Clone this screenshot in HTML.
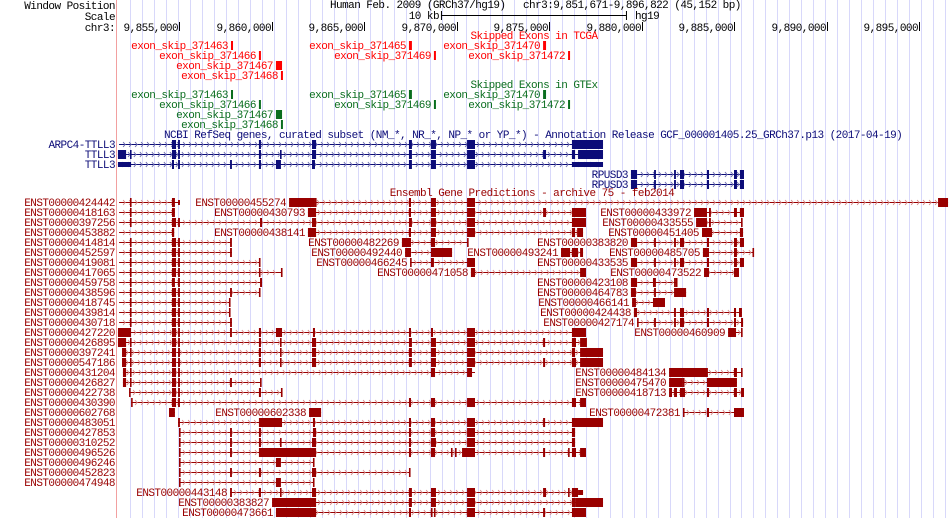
<!DOCTYPE html>
<html><head><meta charset="utf-8"><style>
body{margin:0;background:#fff;width:950px;height:518px;overflow:hidden}
svg{display:block}
text{font-family:"Liberation Mono",monospace;font-size:11px;letter-spacing:-0.55px}
</style></head><body>
<svg id="c" width="950" height="518" xmlns="http://www.w3.org/2000/svg"></svg>
<script>
// Data: positions in kb offset from chr3:9,850,000
const axisTicks=[5,10,15,20,25,30,35,40,45];
const axisTickLabels=["9,855,000","9,860,000","9,865,000","9,870,000","9,875,000","9,880,000","9,885,000","9,890,000","9,895,000"];
const skipNames=["exon_skip_371463","exon_skip_371465","exon_skip_371470","exon_skip_371466","exon_skip_371469","exon_skip_371472","exon_skip_371467","exon_skip_371468"];
const skipRows=[0,0,0,1,1,1,2,3];
const skipStarts=[7.81,17.43,24.68,9.32,18.78,26.03,10.24,10.51];
const skipEnds=[7.92,17.59,24.84,9.38,18.84,26.08,10.57,10.57];
const RP=[[29.43,29.76],[30.68,30.78],[31.76,31.86],[32.08,32.30],[33.54,33.65],[35.00,35.16],[35.32,35.54]];
const refseq=[
 [0,"ARPC4-TTLL3",1,1.76,27.92,[[4.62,4.84],[4.95,5.05],[9.32,9.43],[12.19,12.41],[17.43,17.59],[18.62,18.89],[20.57,21.00],[26.24,27.92]]],
 [1,"TTLL3",1,1.70,27.92,[[1.70,2.14],[2.35,2.41],[4.62,4.84],[4.95,5.05],[9.32,9.43],[10.46,10.51],[12.19,12.41],[17.43,17.59],[18.62,18.89],[20.57,21.00],[24.68,24.84],[26.24,26.41],[26.57,27.92]]],
 [2,"TTLL3",1,1.70,27.92,[[1.70,2.41,1],[4.62,4.73],[4.95,5.05],[7.76,7.86],[9.32,9.43],[10.24,10.51],[12.19,12.35],[17.43,17.59],[18.62,18.89],[20.57,21.00],[26.24,27.92,1]]],
 [3,"RPUSD3",0,29.43,35.54,RP],
 [4,"RPUSD3",0,29.43,35.54,RP]
];
const ensembl=[
 [0,"ENST00000424442",1,1.76,5.05,[[2.35,2.41],[4.62,4.78],[4.95,5.05,1]]],
 [0,"ENST00000455274",0,10.95,46.57,[[10.95,12.35],[12.35,12.41],[17.43,17.54],[18.62,18.89],[20.57,21.00],[46.03,46.57]]],
 [1,"ENST00000418163",1,1.76,4.78,[[2.35,2.41],[4.62,4.78]]],
 [1,"ENST00000430793",0,11.97,27.00,[[11.97,12.41],[17.43,17.54],[18.62,18.89],[20.57,21.00],[24.68,24.84],[26.24,27.00]]],
 [1,"ENST00000433972",0,32.84,35.54,[[32.84,33.54],[33.65,33.75],[35.00,35.16],[35.32,35.54]]],
 [2,"ENST00000397256",1,1.76,27.00,[[2.35,2.41],[4.62,4.84],[4.95,5.05],[9.38,9.49],[12.19,12.41],[17.43,17.59],[18.62,18.89],[20.57,21.00],[26.24,27.00]]],
 [2,"ENST00000433555",0,32.95,35.43,[[32.95,33.54],[33.65,33.75],[35.38,35.43]]],
 [3,"ENST00000453882",1,1.76,4.74,[[4.62,4.74]]],
 [3,"ENST00000438141",0,11.97,26.84,[[11.97,12.41],[17.43,17.54],[18.62,18.89],[20.57,21.00],[26.24,26.41],[26.52,26.84]]],
 [3,"ENST00000451405",0,33.27,35.49,[[33.27,33.81],[35.32,35.49]]],
 [4,"ENST00000414814",1,1.76,7.81,[[2.35,2.41],[4.62,4.84],[4.95,5.05],[7.76,7.86]]],
 [4,"ENST00000482269",0,17.05,20.62,[[17.05,17.54],[18.62,18.84],[20.57,20.65]]],
 [4,"ENST00000383820",0,29.43,35.54,RP],
 [5,"ENST00000452597",1,1.76,7.86,[[2.35,2.41],[4.62,4.84],[4.95,5.05],[7.76,7.86]]],
 [5,"ENST00000492440",0,17.22,19.76,[[17.22,17.54],[18.62,19.76]]],
 [5,"ENST00000493241",0,25.65,26.84,[[25.65,26.14],[26.24,26.57],[26.68,26.84]]],
 [5,"ENST00000485705",0,33.32,36.08,[[33.32,33.65],[35.00,35.16],[36.00,36.08]]],
 [6,"ENST00000419081",1,1.76,9.38,[[2.35,2.41],[4.62,4.84],[4.95,5.05],[9.32,9.38]]],
 [6,"ENST00000466245",0,17.49,21.00,[[17.49,17.54],[18.62,18.78],[20.57,21.00]]],
 [6,"ENST00000433535",0,29.43,35.49,RP],
 [7,"ENST00000417065",1,1.76,10.57,[[2.35,2.41],[4.62,4.84],[4.95,5.05],[9.32,9.38],[10.51,10.57]]],
 [7,"ENST00000471058",0,20.78,27.00,[[20.78,21.00],[26.68,27.00]]],
 [7,"ENST00000473522",0,33.38,35.27,[[33.38,33.65],[35.00,35.27]]],
 [8,"ENST00000459758",1,1.76,9.49,[[2.35,2.41],[4.62,4.78],[4.95,5.05],[9.38,9.49]]],
 [8,"ENST00000423108",0,29.43,31.92,[[29.43,29.76],[30.62,30.78],[31.76,31.86],[31.86,31.92]]],
 [9,"ENST00000438596",1,1.76,9.38,[[2.35,2.41],[4.62,4.84],[4.95,5.05],[7.76,7.86],[9.32,9.38]]],
 [9,"ENST00000464783",0,29.43,32.41,[[29.43,29.70],[30.68,30.78],[31.76,32.41]]],
 [10,"ENST00000418745",1,1.76,7.76,[[2.35,2.41],[4.62,4.84],[4.95,5.05],[7.70,7.76]]],
 [10,"ENST00000466141",0,29.49,31.27,[[29.49,29.70],[30.62,31.27]]],
 [11,"ENST00000439814",1,1.76,7.76,[[2.35,2.41],[4.62,4.84],[4.95,5.05],[7.70,7.76]]],
 [11,"ENST00000424438",0,29.59,35.43,[[29.59,29.76],[31.76,31.86],[32.08,32.30],[33.54,33.65],[35.00,35.11],[35.27,35.43]]],
 [12,"ENST00000430718",1,1.76,7.86,[[2.35,2.41],[4.62,4.84],[4.95,5.05],[7.76,7.86]]],
 [12,"ENST00000427174",0,29.76,35.49,[[29.76,29.81],[30.68,30.78],[31.76,31.86],[32.08,32.30],[33.54,33.65],[35.00,35.11],[35.38,35.49]]],
 [13,"ENST00000427220",1,1.70,27.00,[[1.70,2.41],[4.62,4.84],[4.95,5.05],[7.76,7.86],[9.32,9.43],[10.24,10.57],[12.24,12.35],[17.43,17.54],[18.62,18.73],[20.57,21.00],[26.24,27.00]]],
 [13,"ENST00000460909",0,34.68,35.43,[[34.68,35.11],[35.38,35.43]]],
 [14,"ENST00000426895",1,1.70,27.00,[[1.70,2.14],[2.35,2.41],[4.62,4.84],[4.95,5.05],[9.32,9.43],[10.46,10.51],[12.19,12.41],[17.43,17.59],[18.62,18.89],[20.57,21.00],[24.68,24.79],[26.24,26.46],[26.68,27.05]]],
 [15,"ENST00000397241",1,1.92,27.92,[[1.92,2.14],[2.35,2.41],[4.62,4.84],[4.95,5.05],[9.32,9.43],[10.46,10.51],[12.19,12.41],[17.43,17.59],[18.62,18.89],[20.57,21.00],[26.24,26.41],[26.68,27.92]]],
 [16,"ENST00000547186",1,1.92,27.92,[[1.92,2.14],[2.35,2.41],[4.62,4.84],[4.95,5.05],[9.32,9.43],[10.46,10.51],[12.19,12.41],[17.43,17.59],[18.62,18.89],[20.57,21.00],[24.68,24.79],[26.24,26.46],[26.68,27.92]]],
 [17,"ENST00000431204",1,1.97,21.00,[[1.97,2.14],[2.35,2.41],[4.62,4.84],[4.95,5.05],[18.62,18.84],[20.57,20.84]]],
 [17,"ENST00000484134",0,31.49,35.43,[[31.49,33.59],[35.00,35.16],[35.38,35.43]]],
 [18,"ENST00000426827",1,1.97,9.43,[[1.97,2.14],[2.35,2.41],[4.62,4.84],[4.95,5.05],[7.76,7.86],[9.38,9.43]]],
 [18,"ENST00000475470",0,31.49,35.16,[[31.49,32.24],[32.24,32.30],[33.54,35.16]]],
 [19,"ENST00000422738",1,2.30,10.57,[[2.30,2.35],[4.62,4.84],[4.95,5.05],[9.32,9.43],[10.51,10.57]]],
 [19,"ENST00000418713",0,31.49,35.54,[[31.49,31.65],[31.76,31.92],[32.08,32.35],[33.54,33.65],[35.00,35.16],[35.38,35.54]]],
 [20,"ENST00000430390",1,2.41,27.00,[[2.41,2.46],[4.62,4.84],[4.95,5.05],[17.43,17.54],[18.62,18.84],[20.57,21.00],[26.24,26.46],[26.68,27.00]]],
 [21,"ENST00000602768",1,4.46,4.78,[[4.46,4.78]]],
 [21,"ENST00000602338",0,12.03,12.68,[[12.03,12.68]]],
 [21,"ENST00000472381",0,32.24,35.54,[[32.24,32.30],[33.54,33.65],[35.00,35.54]]],
 [22,"ENST00000483051",1,4.95,27.92,[[4.95,5.05],[9.32,10.57],[12.24,12.35],[17.43,17.54],[18.62,18.84],[20.57,21.00],[24.68,24.79],[26.24,27.92]]],
 [23,"ENST00000427853",1,5.00,26.41,[[5.00,5.05],[7.76,7.86],[9.32,9.43],[12.24,12.41],[17.43,17.54],[18.62,18.84],[20.57,21.00],[26.24,26.41]]],
 [24,"ENST00000310252",1,5.00,26.41,[[5.00,5.05],[7.76,7.86],[9.32,9.43],[10.46,10.51],[12.19,12.41],[17.43,17.54],[18.62,18.89],[20.57,21.00],[26.24,26.41]]],
 [25,"ENST00000496526",1,5.00,27.00,[[5.00,5.05],[7.76,7.86],[9.32,12.41],[17.43,17.54],[18.62,18.84],[19.70,19.76],[19.92,19.97],[20.30,21.00],[24.68,24.79],[26.03,26.08],[26.24,26.46],[26.68,27.00]]],
 [26,"ENST00000496246",1,5.00,12.30,[[5.00,5.05],[10.24,10.51],[12.24,12.30]]],
 [27,"ENST00000452823",1,5.00,17.49,[[5.00,5.05],[7.76,7.86],[9.32,9.43],[12.19,12.41],[17.43,17.49]]],
 [28,"ENST00000474948",1,5.00,12.30,[[5.00,5.05],[10.24,10.51],[12.24,12.30]]],
 [29,"ENST00000443148",0,7.76,26.84,[[7.76,7.86],[9.32,9.43],[10.46,10.51],[12.19,12.41],[17.43,17.59],[18.62,18.89],[20.57,21.00],[24.68,24.84],[26.03,26.08],[26.24,26.57],[26.57,26.84,1]]],
 [30,"ENST00000383827",0,10.03,27.92,[[10.03,12.41],[17.43,17.59],[18.62,18.89],[20.57,21.00],[26.24,26.41],[26.41,27.92]]],
 [31,"ENST00000473661",0,10.24,27.00,[[10.24,12.41],[17.43,17.54],[18.62,18.68],[18.78,18.84],[20.57,21.00],[24.68,24.79],[26.24,27.00]]]
];

const NS="http://www.w3.org/2000/svg";
const svg=document.getElementById('c');
function X(v){return 179+(v-5)*18.5;}
function el(tag,attrs,parent){const e=document.createElementNS(NS,tag);for(const k in attrs)e.setAttribute(k,attrs[k]);(parent||svg).appendChild(e);return e;}
function txt(s,x,y,fill,anchor,name){const t=el('text',{x:x,y:y,fill:fill,'text-anchor':anchor||'start'});t.textContent=s;


return t;}

// grid
const grid=el('g',{});


for(let gx=130;gx<950;gx+=11.99){el('rect',{x:Math.round(gx),y:0,width:1,height:518,fill:'#d8d8fa'},grid);}
const edge=el('rect',{x:116,y:0,width:1,height:518,fill:'#f2a0a0'});



// header
txt("Window Position",115,9,'#000','end','window-position-label');
txt("Scale",115,20,'#000','end','scale-label');
txt("chr3:",115,31,'#000','end','chr-label');
txt("Human Feb. 2009 (GRCh37/hg19)",330,8,'#000','start','assembly-title');
txt("chr3:9,851,671-9,896,822 (45,152 bp)",523,8,'#000','start','position-title');
txt("10 kb",439,19,'#000','end','scale-bar-label');
txt("hg19",635,19,'#000','start','scale-bar-db');
const sb=el('g',{});


el('rect',{x:X(19.16),y:15,width:X(29.16)-X(19.16),height:1,fill:'#000'},sb);
el('rect',{x:X(19.16),y:11,width:1,height:9,fill:'#000'},sb);
el('rect',{x:X(29.16),y:11,width:1,height:9,fill:'#000'},sb);
axisTicks.forEach((v,i)=>{
 const tk=el('rect',{x:Math.round(X(v)),y:22,width:1,height:9,fill:'#000'});
 
 
 txt(axisTickLabels[i],Math.round(X(v))-1,31,'#000','end','axis-tick-label');
});

// skipped exon tracks
function skipTrack(title,titleY,top,color,nm){
 txt(title,534,titleY,color,'middle',nm+'-title');
 skipNames.forEach((n,i)=>{
  const cy=top+skipRows[i]*10;
  const b=el('rect',{x:X(skipStarts[i]),y:cy-4,width:Math.max(2,X(skipEnds[i])-X(skipStarts[i])),height:9,fill:color});
  
  
  txt(n,X(skipStarts[i])-3,cy+4,color,'end',nm+'-label');
 });
}
skipTrack("Skipped Exons in TCGA",39,45,'#ff0000','tcga');
skipTrack("Skipped Exons in GTEx",88,94,'#0a6e1e','gtex');

// gene drawing
function drawTx(t,top,color,arrowColor,grp){
 const [row,name,leftLabel,s,e,ex]=t;
 const cy=top+row*10;
 const g=el('g',{},grp);
 
 
 el('rect',{x:X(s),y:cy,width:X(e)-X(s),height:1,fill:color},g);
 for(let ax=X(s)+4;ax<X(e)-3;ax+=6){el('path',{d:`M${ax.toFixed(1)} ${cy-2}L${(ax+2).toFixed(1)} ${cy+0.5}L${ax.toFixed(1)} ${cy+3}`,stroke:arrowColor,'stroke-width':1,fill:'none'},g);}
 ex.forEach(x=>{
  const w=Math.max(1.6,X(x[1])-X(x[0]));
  const h=x[2]?5:9;
  el('rect',{x:X(x[0]),y:cy-Math.floor(h/2),width:w,height:h,fill:color},g);
 });
 if(leftLabel) txt(name,115,cy+4,color,'end','transcript-label');
 else txt(name,X(s)-3,cy+4,color,'end','transcript-label');
}
txt("NCBI RefSeq genes, curated subset (NM_*, NR_*, NP_* or YP_*) - Annotation Release GCF_000001405.25_GRCh37.p13 (2017-04-19)",164,138,'#0c0c78','start','refseq-track-title');
const rg=el('g',{});


refseq.forEach(t=>drawTx(t,144,'#0c0c78','#7070b0',rg));
txt("Ensembl Gene Predictions - archive 75 - feb2014",532,196,'#990000','middle','ensembl-track-title');
const eg=el('g',{});


ensembl.forEach(t=>drawTx(t,202,'#990000','#d89090',eg));
</script>
</body></html>
